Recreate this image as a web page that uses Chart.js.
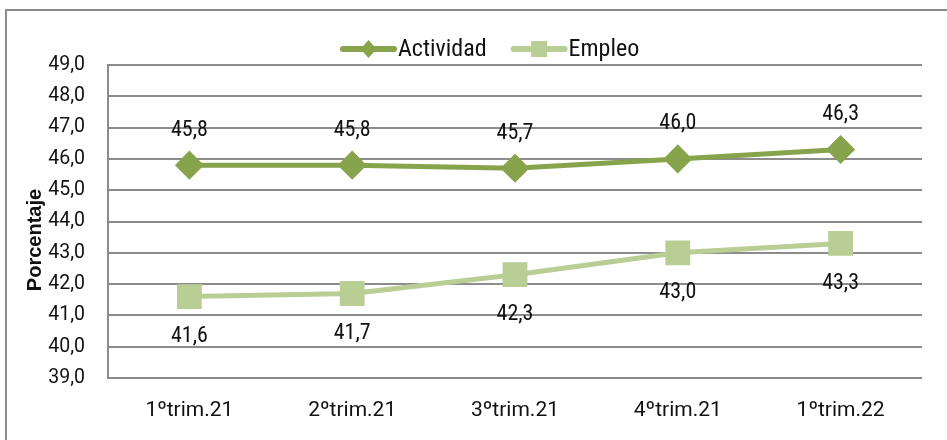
<!DOCTYPE html>
<html>
<head>
<meta charset="utf-8">
<script src="https://cdn.jsdelivr.net/npm/chart.js@4/dist/chart.umd.min.js"></script>
<style>
  html, body { margin: 0; padding: 0; background: #fff; overflow: hidden; }
  #wrap { position: relative; width: 947px; height: 440px; overflow: hidden; }
  #frame { position: absolute; left: 5px; top: 9px; width: 1000px; height: 500px; border: 2px solid #8c8c8c; }
  #c { position: absolute; left: 0; top: 0; }
</style>
</head>
<body>
<div id="wrap">
  <div id="frame"></div>
  <canvas id="c" width="947" height="440"></canvas>
</div>
<script>
// quarters and rates (%)
const categories = ['1ºtrim.21', '2ºtrim.21', '3ºtrim.21', '4ºtrim.21', '1ºtrim.22'];
const actividad = [45.8, 45.8, 45.7, 46.0, 46.3];
const empleo = [41.6, 41.7, 42.3, 43.0, 43.3];
const yMin = 39, yMax = 49, yStep = 1;

const FONT = 'Roboto, sans-serif';
const STRETCH = 'condensed'; // lands in the font shorthand before the size
const GRID = '#8c8c8c';
const C_ACT = '#87a34b';
const C_EMP = '#b8ce95';

const fmt = v => v.toFixed(1).replace('.', ',');

// value labels, axis title and a legend with line + marker swatches
const extras = {
    id: 'extras',
    afterDatasetsDraw(chart) {
        const ctx = chart.ctx;
        ctx.save();
        ctx.font = STRETCH + ' 22px ' + FONT;
        ctx.fillStyle = '#111';
        ctx.textAlign = 'center';
        ctx.textBaseline = 'middle';
        chart.data.datasets.forEach((ds, i) => {
            const off = i === 0 ? -35 : 40;
            chart.getDatasetMeta(i).data.forEach((pt, j) => {
                ctx.fillText(fmt(ds.data[j]), pt.x, pt.y + off);
            });
        });

        // axis title
        ctx.save();
        ctx.translate(35, 240);
        ctx.rotate(-Math.PI / 2);
        ctx.font = 'bold 20px "Liberation Sans", Arial, sans-serif';
        ctx.fillText('Porcentaje', 0, 0);
        ctx.restore();

        // legend
        const ly = 49;
        let x = 340;
        ctx.font = STRETCH + ' 24px ' + FONT;
        ctx.textAlign = 'left';
        chart.data.datasets.forEach((ds, i) => {
            const c = ds.borderColor;
            ctx.strokeStyle = c;
            ctx.fillStyle = c;
            ctx.lineWidth = 6;
            ctx.lineCap = 'round';
            ctx.beginPath();
            ctx.moveTo(x + 3, ly); ctx.lineTo(x + 54, ly);
            ctx.stroke();
            const mx = x + 28.5;
            ctx.beginPath();
            if (i === 0) {
                ctx.moveTo(mx, ly - 9); ctx.lineTo(mx + 8, ly); ctx.lineTo(mx, ly + 9); ctx.lineTo(mx - 8, ly);
            } else {
                ctx.rect(mx - 8, ly - 8, 16, 16);
            }
            ctx.fill();
            ctx.fillStyle = '#111';
            ctx.fillText(ds.label, x + 58, ly + 1);
            x += 58 + ctx.measureText(ds.label).width + 24;
        });
        ctx.restore();
    }
};

new Chart(document.getElementById('c'), {
    type: 'line',
    data: {
        labels: categories,
        datasets: [
            {
                label: 'Actividad',
                data: actividad,
                borderColor: C_ACT,
                backgroundColor: C_ACT,
                borderWidth: 5,
                pointStyle: 'rectRot',
                pointRadius: 11,
                pointHoverRadius: 11,
                fill: false,
                tension: 0
            },
            {
                label: 'Empleo',
                data: empleo,
                borderColor: C_EMP,
                backgroundColor: C_EMP,
                borderWidth: 5,
                pointStyle: 'rect',
                pointRadius: 14,
                pointHoverRadius: 14,
                fill: false,
                tension: 0
            }
        ]
    },
    options: {
        responsive: false,
        animation: false,
        layout: { padding: { left: 20, right: 25, top: 65, bottom: 10 } },
        plugins: {
            tooltip: { enabled: false },
            legend: { display: false }
        },
        scales: {
            x: {
                offset: true,
                grid: { display: false, drawTicks: false, offset: true },
                border: { display: false },
                ticks: { color: '#111', padding: 20, font: { family: FONT, size: 21, style: STRETCH } },
                afterFit(s) { s.height = 52; }
            },
            y: {
                min: yMin,
                max: yMax,
                grid: { color: GRID, lineWidth: 2, drawTicks: false },
                border: { display: true, color: GRID, width: 2 },
                ticks: {
                    stepSize: yStep,
                    color: '#111',
                    padding: 23,
                    font: { family: FONT, size: 19.5, style: STRETCH },
                    callback: v => fmt(v)
                },
                afterFit(s) { s.width = 88; }
            }
        }
    },
    plugins: [extras]
});
</script>
</body>
</html>
